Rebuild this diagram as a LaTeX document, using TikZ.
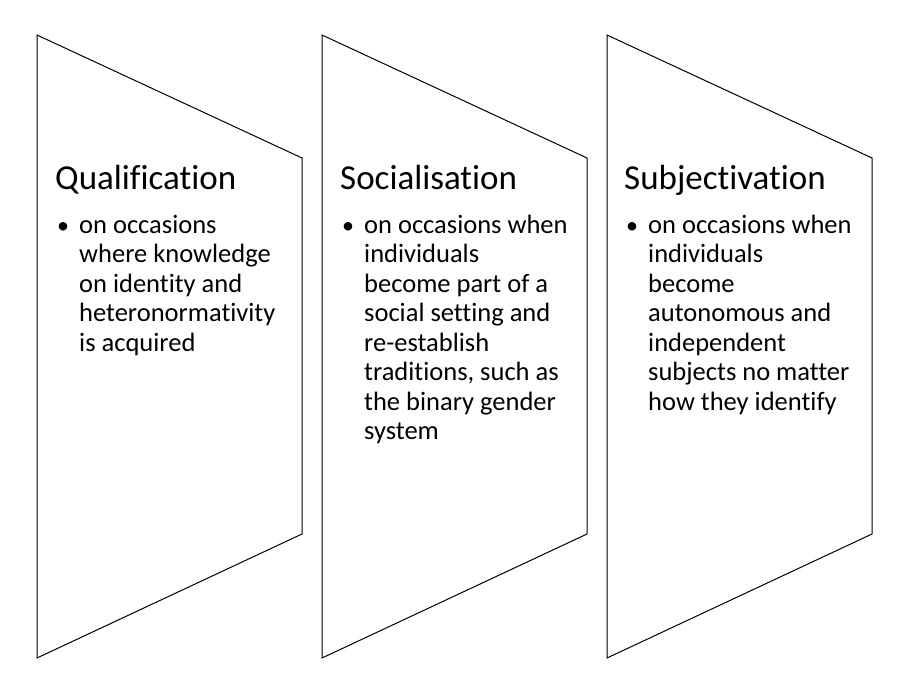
\documentclass[tikz,border=0pt]{standalone}
\usepackage{fontspec}
\setmainfont{Carlito}[Ligatures=NoCommon]
\usepackage{tikz}

\begin{document}
\begin{tikzpicture}[x=1pt, y=-1pt,
    panel/.style={draw=black, line width=1pt, line join=miter},
    heading/.style={anchor=base west, inner sep=0pt, font=\fontsize{35}{42}\selectfont},
    dot/.style={anchor=base west, inner sep=0pt, font=\fontsize{24}{29.5}\selectfont},
    body/.style={anchor=base west, inner sep=0pt, font=\fontsize{26.5}{29.5}\selectfont},
]
\useasboundingbox (0,0) rectangle (908,696);

% Qualification
\draw[panel] (37,35) -- (302,158) -- (302,534) -- (37,658) -- cycle;
\node[heading] (qual) at (55,189) {Qualification};
\node[dot] (qualdot) at (57,233) {•};
\node[body] (qualtxt) at (79,233) {\begin{tabular}[t]{@{}l@{}}on occasions\\where knowledge\\on identity and\\heteronormativity\\is acquired\end{tabular}};

% Socialisation
\draw[panel] (322,35) -- (587,158) -- (587,534) -- (322,658) -- cycle;
\node[heading] (soc) at (340,189) {Socialisation};
\node[dot] (socdot) at (342,233) {•};
\node[body] (soctxt) at (364,233) {\begin{tabular}[t]{@{}l@{}}on occasions when\\individuals\\become part of a\\social setting and\\re-establish\\traditions, such as\\the binary gender\\system\end{tabular}};

% Subjectivation
\draw[panel] (607,35) -- (872,158) -- (872,534) -- (607,658) -- cycle;
\node[heading] (subj) at (624,189) {Subjectivation};
\node[dot] (subjdot) at (626,233) {•};
\node[body] (subjtxt) at (648,233) {\begin{tabular}[t]{@{}l@{}}on occasions when\\individuals\\become\\autonomous and\\independent\\subjects no matter\\how they identify\end{tabular}};

\end{tikzpicture}
\end{document}
